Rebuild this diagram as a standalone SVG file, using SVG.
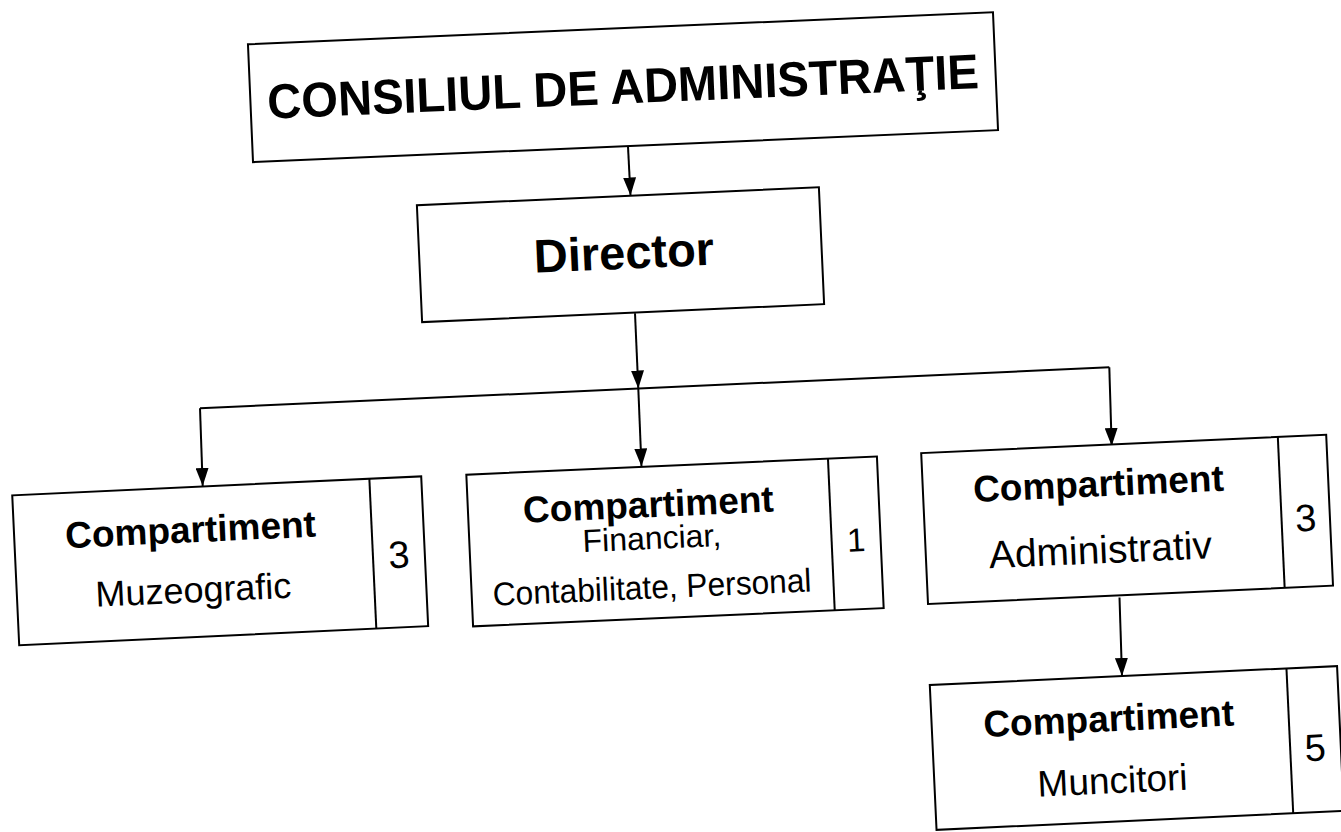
<svg xmlns="http://www.w3.org/2000/svg" width="1341" height="832" viewBox="0 0 1341 832">
<style>
.box{fill:#fff;stroke:#000;stroke-width:2}
.div{stroke:#000;stroke-width:2}
.con{fill:none;stroke:#000;stroke-width:2}
.b{font-family:"Liberation Sans",Arial,sans-serif;font-weight:bold;fill:#000;text-anchor:middle}
.r{font-family:"Liberation Sans",Arial,sans-serif;fill:#000;text-anchor:middle}
</style>
<defs>
<marker id="arr" viewBox="0 0 18 13" refX="18" refY="6.5" markerWidth="18" markerHeight="13" markerUnits="userSpaceOnUse" orient="auto">
<path d="M0,0 L18,6.5 L0,13 z" fill="#000"/>
</marker>
</defs>
<rect x="0" y="0" width="1341" height="832" fill="#fff"/>

<g id="connectors">
<path class="con" d="M628,146.6 L630.5,195.5" marker-end="url(#arr)"/>
<path class="con" d="M635,313.3 L638.3,388.5" marker-end="url(#arr)"/>
<path class="con" d="M200,408.3 L1109.3,367.3"/>
<path class="con" d="M200,408.3 L202.7,486" marker-end="url(#arr)"/>
<path class="con" d="M638.3,388.5 L641.5,466.5" marker-end="url(#arr)"/>
<path class="con" d="M1109.3,367.3 L1111.7,446" marker-end="url(#arr)"/>
<path class="con" d="M1119.5,597.5 L1122,676" marker-end="url(#arr)"/>
</g>

<g id="consiliu" transform="rotate(-2.46 623 87.25)">
<rect class="box" x="250.15" y="28.2" width="745.7" height="118"/>
<text class="b" x="623" y="103.5" font-size="49" textLength="712" lengthAdjust="spacingAndGlyphs">CONSILIUL DE ADMINISTRAŢIE</text>
</g>

<g id="director" transform="rotate(-2.56 620.5 254.75)">
<rect class="box" x="419.3" y="196.2" width="402.4" height="117"/>
<text class="b" x="624" y="269" font-size="47">Director</text>
</g>

<g id="muzeografic" transform="rotate(-2.66 220.25 560.75)">
<rect class="box" x="15.5" y="485.75" width="409.4" height="150"/>
<line class="div" x1="373" y1="485.75" x2="373" y2="635.75"/>
<text class="b" x="192" y="541" font-size="37">Compartiment</text>
<text class="r" x="192" y="601" font-size="36">Muzeografic</text>
<text class="r" x="399" y="576" font-size="38">3</text>
</g>

<g id="financiar" transform="rotate(-2.55 675 541.4)">
<rect class="box" x="469.5" y="465.5" width="411" height="151.8"/>
<line class="div" x1="831.5" y1="465.5" x2="831.5" y2="617.3"/>
<text class="b" x="650" y="516" font-size="37">Compartiment</text>
<text class="r" x="652" y="548" font-size="32">Financiar,</text>
<text class="r" x="650" y="597.5" font-size="33" textLength="319" lengthAdjust="spacingAndGlyphs">Contabilitate, Personal</text>
<text class="r" x="856" y="559.5" font-size="33">1</text>
</g>

<g id="administrativ" transform="rotate(-2.59 1127.1 519.4)">
<rect class="box" x="924.4" y="443.9" width="405.4" height="151"/>
<line class="div" x1="1281.4" y1="443.9" x2="1281.4" y2="594.9"/>
<text class="b" x="1100" y="495" font-size="37">Compartiment</text>
<text class="r" x="1099" y="562" font-size="39">Administrativ</text>
<text class="r" x="1305.6" y="539" font-size="38">3</text>
</g>

<g id="muncitori" transform="rotate(-2.67 1136.8 748)">
<rect class="box" x="932.95" y="675.5" width="407.7" height="145"/>
<line class="div" x1="1290" y1="675.5" x2="1290" y2="820.5"/>
<text class="b" x="1110" y="730" font-size="37">Compartiment</text>
<text class="r" x="1111" y="792" font-size="37">Muncitori</text>
<text class="r" x="1315" y="769" font-size="38">5</text>
</g>
</svg>
